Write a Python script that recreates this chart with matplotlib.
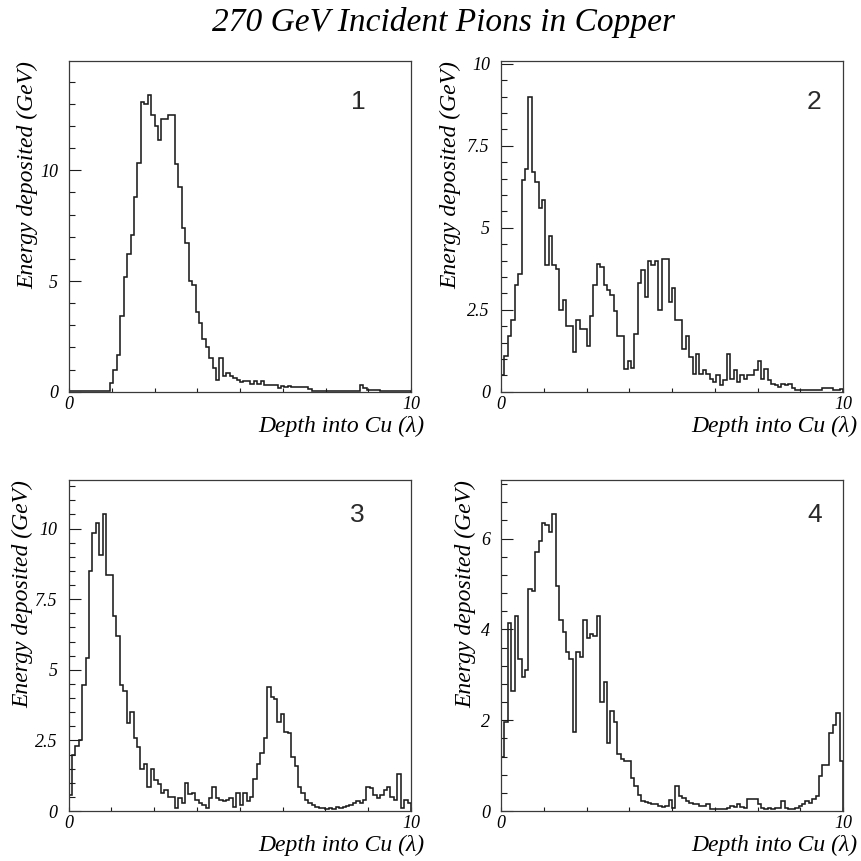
import numpy as np
import matplotlib
matplotlib.use('Agg')
import matplotlib.pyplot as plt
from matplotlib.ticker import MultipleLocator, FixedLocator, FormatStrFormatter

# longitudinal shower profiles, 100 bins of 0.1 interaction lengths
depth_edges = np.linspace(0.0, 10.0, 101)

energy_1 = [
    0.05, 0.05, 0.05, 0.05, 0.05, 0.05, 0.05, 0.05, 0.05, 0.05,
    0.05, 0.05, 0.38, 0.98, 1.65, 3.4, 5.2, 6.2, 7.1, 8.8,
    10.35, 13.1, 13.0, 13.4, 12.5, 12.0, 11.35, 12.3, 12.3, 12.5,
    12.5, 10.3, 9.25, 7.4, 6.7, 5.0, 4.8, 3.6, 3.1, 2.4,
    2.0, 1.5, 1.05, 0.55, 1.5, 0.7, 0.85, 0.72, 0.62, 0.55,
    0.45, 0.5, 0.5, 0.35, 0.5, 0.35, 0.5, 0.3, 0.3, 0.3,
    0.3, 0.15, 0.25, 0.2, 0.25, 0.2, 0.2, 0.2, 0.2, 0.2,
    0.1, 0.05, 0.05, 0.05, 0.05, 0.05, 0.05, 0.05, 0.05, 0.05,
    0.05, 0.05, 0.05, 0.05, 0.05, 0.3, 0.15, 0.08, 0.08, 0.08,
    0.08, 0.05, 0.05, 0.05, 0.05, 0.05, 0.05, 0.05, 0.05, 0.05,
]

energy_2 = [
    0.5, 1.1, 1.7, 2.2, 3.25, 3.6, 6.45, 6.8, 9.0, 6.7,
    6.4, 5.6, 5.85, 3.85, 4.75, 3.85, 3.75, 2.5, 2.8, 2.0,
    2.0, 1.2, 2.2, 1.9, 1.9, 1.4, 2.3, 3.25, 3.9, 3.8,
    3.25, 3.1, 2.95, 2.45, 1.7, 1.7, 0.7, 0.95, 0.73, 1.75,
    3.3, 3.7, 2.9, 4.0, 3.85, 4.0, 2.5, 4.05, 4.05, 2.75,
    3.15, 2.2, 2.2, 1.3, 1.7, 1.05, 0.55, 1.15, 0.55, 0.65,
    0.55, 0.4, 0.3, 0.5, 0.2, 0.35, 1.15, 0.4, 0.65, 0.3,
    0.5, 0.4, 0.5, 0.5, 0.65, 0.95, 0.4, 0.7, 0.35, 0.25,
    0.2, 0.15, 0.25, 0.2, 0.25, 0.1, 0.05, 0.05, 0.05, 0.05,
    0.05, 0.05, 0.05, 0.05, 0.1, 0.1, 0.1, 0.05, 0.05, 0.08,
]

energy_3 = [
    0.55, 2.0, 2.3, 2.5, 4.45, 5.4, 8.5, 9.85, 10.2, 9.05,
    10.5, 8.35, 8.35, 6.9, 6.2, 4.45, 4.25, 3.1, 3.5, 2.6,
    2.25, 1.5, 1.65, 0.85, 1.5, 1.1, 0.95, 0.65, 0.75, 0.5,
    0.5, 0.1, 0.45, 0.3, 1.0, 0.6, 0.65, 0.4, 0.3, 0.2,
    0.1, 0.45, 0.85, 0.45, 0.4, 0.35, 0.4, 0.45, 0.15, 0.65,
    0.2, 0.65, 0.35, 0.5, 1.15, 1.65, 2.05, 2.6, 4.4, 4.05,
    3.95, 3.15, 3.45, 2.8, 2.75, 1.9, 1.6, 0.85, 0.65, 0.4,
    0.3, 0.2, 0.15, 0.1, 0.12, 0.07, 0.1, 0.07, 0.15, 0.1,
    0.15, 0.18, 0.2, 0.28, 0.35, 0.3, 0.4, 0.85, 0.8, 0.55,
    0.45, 0.55, 0.75, 0.85, 0.5, 0.4, 1.3, 0.1, 0.4, 0.3,
]

energy_4 = [
    1.2, 1.95, 4.15, 2.65, 4.3, 3.35, 2.95, 3.1, 4.9, 4.85,
    5.7, 5.95, 6.35, 6.3, 6.15, 6.55, 4.95, 4.2, 3.95, 3.5,
    3.35, 1.75, 3.5, 3.4, 4.2, 3.8, 3.9, 3.85, 4.3, 2.4,
    2.85, 1.5, 2.2, 1.95, 1.25, 1.15, 1.1, 1.1, 0.73, 0.55,
    0.35, 0.23, 0.2, 0.18, 0.15, 0.15, 0.12, 0.08, 0.1, 0.25,
    0.07, 0.55, 0.33, 0.28, 0.22, 0.18, 0.15, 0.15, 0.12, 0.12,
    0.15, 0.05, 0.05, 0.05, 0.05, 0.05, 0.07, 0.12, 0.09, 0.15,
    0.09, 0.07, 0.26, 0.26, 0.27, 0.15, 0.07, 0.05, 0.07, 0.05,
    0.07, 0.07, 0.22, 0.07, 0.05, 0.05, 0.07, 0.1, 0.16, 0.22,
    0.18, 0.26, 0.33, 0.77, 1.02, 1.02, 1.72, 1.9, 2.16, 1.1,
]

profiles = [energy_1, energy_2, energy_3, energy_4]
panel_ids = ['1', '2', '3', '4']
y_max = [14.96, 10.1, 11.72, 7.29]
y_major = [5, 2.5, 2.5, 2]
y_minor = [1, 0.5, 0.5, 0.4]

title = '270 GeV Incident Pions in Copper'
x_title = 'Depth into Cu (λ)'
y_title = 'Energy deposited (GeV)'

W = H = 861

# pad boxes in pixels: left, top, right, bottom
boxes = [(69, 60.5, 411, 391.7), (501, 60.5, 843, 391.7),
         (68.5, 480, 411, 811), (501, 480, 843, 811)]
ylab_pos = [(28, 61), (451, 61), (23, 480), (466, 480)]
xlab_pos = [(424, 416), (857, 416), (424, 835), (857, 835)]
id_pos = [(358, 102), (814, 102), (357, 515), (815, 515)]

plt.rcParams['font.family'] = ['Liberation Serif', 'DejaVu Serif']
plt.rcParams['font.style'] = 'italic'

fig = plt.figure(figsize=(W / 100, H / 100), dpi=100)
fig.text(444 / W, 1 - 23 / H, title, ha='center', va='center', fontsize=24)

ink = '#1c1c1c'
for i, vals in enumerate(profiles):
    l, t, r, b = boxes[i]
    ax = fig.add_axes([l / W, 1 - b / H, (r - l) / W, (b - t) / H])
    ax.stairs(vals, depth_edges, baseline=0, color=ink, lw=1.15)
    ax.set_xlim(0, 10)
    ax.set_ylim(0, y_max[i])

    for s in ax.spines.values():
        s.set_color('#3a3a3a')
        s.set_linewidth(0.9)

    ax.xaxis.set_major_locator(FixedLocator([0, 10]))
    ax.xaxis.set_minor_locator(FixedLocator(np.arange(1, 8) * 1.25))
    ax.yaxis.set_major_locator(MultipleLocator(y_major[i]))
    ax.yaxis.set_minor_locator(MultipleLocator(y_minor[i]))
    ax.yaxis.set_major_formatter(FormatStrFormatter('%g'))
    ax.xaxis.set_major_formatter(FormatStrFormatter('%g'))

    ax.tick_params(axis='y', which='major', direction='in', length=8.6,
                   width=0.8, color=ink, labelsize=13, pad=8)
    ax.tick_params(axis='y', which='minor', direction='in', length=4.3,
                   width=0.8, color=ink)
    ax.tick_params(axis='x', which='both', direction='in', length=2.6,
                   width=0.8, color=ink, labelsize=13, pad=3)

    # pad number in the upper right corner
    fig.text(id_pos[i][0] / W, 1 - id_pos[i][1] / H, panel_ids[i],
             ha='center', va='center', fontsize=19, fontstyle='normal',
             family='Liberation Sans', color='#2a2a2a')

    fig.text(ylab_pos[i][0] / W, 1 - ylab_pos[i][1] / H, y_title,
             rotation=90, ha='center', va='top', fontsize=17)
    fig.text(xlab_pos[i][0] / W, 1 - xlab_pos[i][1] / H, x_title,
             ha='right', va='top', fontsize=17)

fig.savefig('out.png', dpi=100)
